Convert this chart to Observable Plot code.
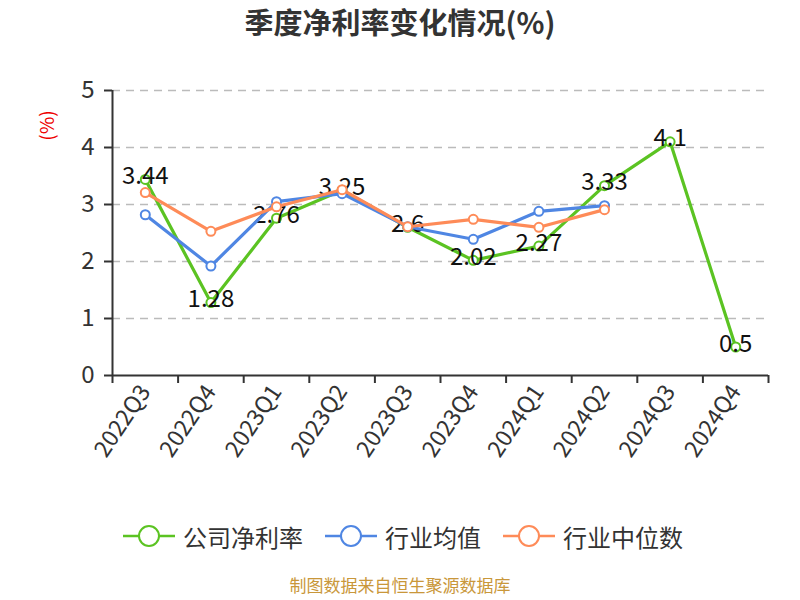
<!DOCTYPE html>
<html>
<head>
<meta charset="utf-8">
<script src="https://cdn.jsdelivr.net/npm/d3@7"></script>
<script src="https://cdn.jsdelivr.net/npm/@observablehq/plot@0.6"></script>
<style>
  body { margin: 0; background: #fff; font-family: "Noto Sans CJK SC", "Noto Sans", sans-serif; }
  #wrap { width: 800px; height: 600px; position: relative; overflow: hidden; }
  #title { height: 45px; line-height: 45px; text-align: center; font-size: 29px; font-weight: bold; color: #333; margin-top: -1px; margin-bottom: 1px; }
  #legend { height: 52px; display: flex; justify-content: center; align-items: center; gap: 22px; font-size: 24px; color: #333; padding-left: 6px; }
  .item { display: flex; align-items: center; gap: 8px; }
  #caption { text-align: center; font-size: 17px; color: #c9973a; margin-top: 10px; }
  svg text { font-family: "Noto Sans CJK SC", "Noto Sans", sans-serif; }
</style>
</head>
<body>
<div id="wrap">
  <div id="title">季度净利率变化情况(%)</div>
  <div id="chart"></div>
  <div id="legend"></div>
  <div id="caption">制图数据来自恒生聚源数据库</div>
</div>
<script>
const quarters = ["2022Q3","2022Q4","2023Q1","2023Q2","2023Q3","2023Q4","2024Q1","2024Q2","2024Q3","2024Q4"];
const company = [3.44, 1.28, 2.76, 3.25, 2.6, 2.02, 2.27, 3.33, 4.1, 0.5];
const industryAvg = [2.82, 1.92, 3.05, 3.19, 2.61, 2.39, 2.88, 2.98];
const industryMedian = [3.21, 2.53, 2.96, 3.26, 2.61, 2.74, 2.60, 2.91];
const yTicks = [0, 1, 2, 3, 4, 5];
const seriesNames = ["公司净利率", "行业均值", "行业中位数"];
const colors = ["#5bc322", "#4f86e3", "#fe8b58"];

const toRows = vals => vals.map((v, i) => ({q: quarters[i], x: i + 0.5, v}));
const rows = [toRows(company), toRows(industryAvg), toRows(industryMedian)];

const seriesMarks = (data, color, withLabels) => [
  Plot.line(data, {x: "x", y: "v", stroke: color, strokeWidth: 3.2}),
  Plot.dot(data, {x: "x", y: "v", r: 4.5, fill: "#fff", stroke: color, strokeWidth: 2}),
  ...(withLabels ? [Plot.text(data, {x: "x", y: "v", text: d => String(d.v), dy: -3, fontSize: 24, fill: "#111"})] : [])
];

const boundaryTicks = d3.range(quarters.length + 1);
const labelTicks = quarters.map((q, i) => i + 0.5);

const chart = Plot.plot({
  width: 800,
  height: 465,
  marginTop: 45,
  marginBottom: 135,
  marginLeft: 112,
  marginRight: 32,
  style: {fontFamily: '"Noto Sans CJK SC", "Noto Sans", sans-serif', background: "#fff"},
  x: {type: "linear", domain: [0, quarters.length]},
  y: {domain: [0, 5]},
  marks: [
    Plot.gridY(yTicks.filter(t => t > 0), {stroke: "#bbb", strokeOpacity: 1, strokeDasharray: "8,6", strokeWidth: 1.5}),
    Plot.axisY(yTicks, {tickSize: 8, tickPadding: 10, fontSize: 24, fill: "#333", stroke: "#333", strokeWidth: 2, label: null, tickFormat: d => String(d)}),
    Plot.ruleX([0], {stroke: "#333", strokeWidth: 2}),
    Plot.ruleY([0], {stroke: "#333", strokeWidth: 2}),
    Plot.axisX(boundaryTicks, {tickSize: 8, tickFormat: () => "", stroke: "#333", strokeWidth: 2, label: null}),
    Plot.axisX(labelTicks, {tickSize: 0, tickPadding: 12, tickRotate: -56, fontSize: 23, fill: "#333", label: null,
      tickFormat: t => quarters[Math.round(t - 0.5)]}),
    Plot.text(["(%)"], {frameAnchor: "top-left", text: d => d, rotate: -90, textAnchor: "middle", lineAnchor: "middle", dx: -65, dy: 35, fill: "#e00", fontSize: 19}),
    ...seriesMarks(rows[0], colors[0], true),
    ...seriesMarks(rows[1], colors[1], false),
    ...seriesMarks(rows[2], colors[2], false)
  ]
});
document.getElementById("chart").appendChild(chart);

const legend = document.getElementById("legend");
seriesNames.forEach((name, i) => {
  const item = document.createElement("div");
  item.className = "item";
  item.innerHTML = `<svg width="52" height="24"><line x1="0" y1="12" x2="52" y2="12" stroke="${colors[i]}" stroke-width="2.5"/><circle cx="26" cy="12" r="10" fill="#fff" stroke="${colors[i]}" stroke-width="2"/></svg><span>${name}</span>`;
  legend.appendChild(item);
});
</script>
</body>
</html>
